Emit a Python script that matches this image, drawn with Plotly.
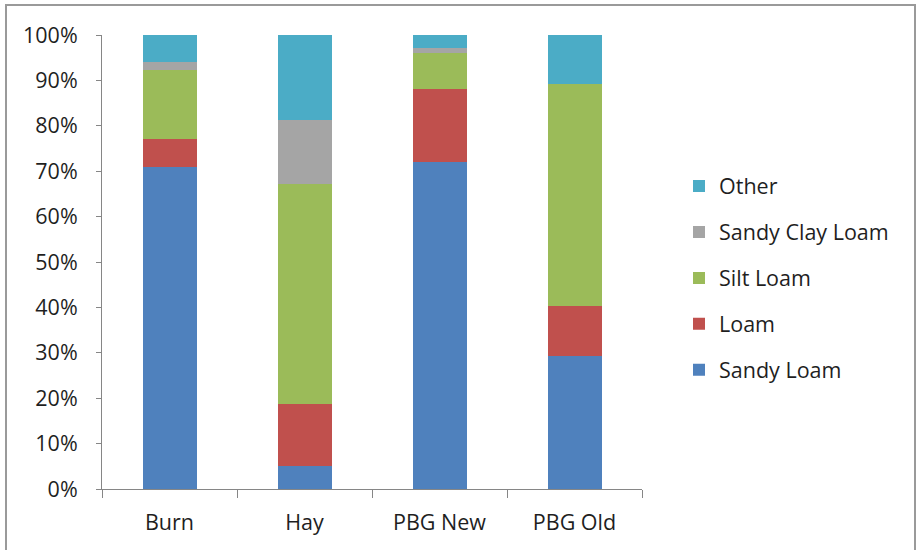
import plotly.graph_objects as go

# Share of samples by soil texture class at each site
sites = ["Burn", "Hay", "PBG New", "PBG Old"]
sandy_loam = [0.71, 0.05, 0.72, 0.294]
loam = [0.061, 0.138, 0.161, 0.11]
silt_loam = [0.151, 0.484, 0.08, 0.488]
sandy_clay_loam = [0.018, 0.14, 0.011, 0.0]
other = [0.06, 0.188, 0.028, 0.108]

series = [
    ("Sandy Loam", sandy_loam, "#4F81BD"),
    ("Loam", loam, "#C0504D"),
    ("Silt Loam", silt_loam, "#9BBB59"),
    ("Sandy Clay Loam", sandy_clay_loam, "#A5A5A5"),
    ("Other", other, "#4BACC6"),
]

FONT = "Open Sans"
FS = 21.5
TEXT = "#1f1f1f"
AXIS = "#868686"

fig = go.Figure()
for i, (name, vals, color) in enumerate(series):
    fig.add_trace(go.Bar(
        x=sites, y=vals, name=name, legendgroup=name,
        legendrank=len(series) - i,  # top segment listed first
        marker=dict(color=color, line=dict(width=0)),
        width=0.4,
    ))

fig.update_layout(
    width=916, height=550,
    barmode="stack",
    plot_bgcolor="white", paper_bgcolor="white",
    margin=dict(l=102, r=274, t=35, b=61),
    font=dict(family=FONT, size=FS, color=TEXT),
    showlegend=True,
    legend=dict(
        traceorder="grouped", tracegroupgap=15,
        x=(679 - 102) / 540, xanchor="left", xref="paper",
        y=(489 - 278) / 454, yanchor="middle",
        font=dict(family=FONT, size=FS, color=TEXT),
        bgcolor="rgba(0,0,0,0)", borderwidth=0,
    ),
    xaxis=dict(
        showline=True, linecolor=AXIS, linewidth=1,
        ticks="outside", ticklen=8, tickcolor=AXIS, tickson="boundaries",
        showgrid=False, tickfont=dict(size=FS, color=TEXT),
        ticklabelstandoff=14,
    ),
    yaxis=dict(
        range=[0, 1], tickvals=[i / 10 for i in range(11)], tickformat=".0%",
        showline=True, linecolor=AXIS, linewidth=1,
        ticks="outside", ticklen=5, tickcolor=AXIS,
        showgrid=False, zeroline=False, ticklabelstandoff=14,
        tickfont=dict(size=FS, color=TEXT),
    ),
    shapes=[dict(
        type="rect", xref="paper", yref="paper",
        x0=(6 - 102) / 540, x1=(915 - 102) / 540,
        y0=(489 - 570) / 454, y1=(489 - 5) / 454,
        line=dict(color="#9a9a9a", width=2), fillcolor="rgba(0,0,0,0)",
        layer="below",
    )],
)

fig.write_html("out.html")
